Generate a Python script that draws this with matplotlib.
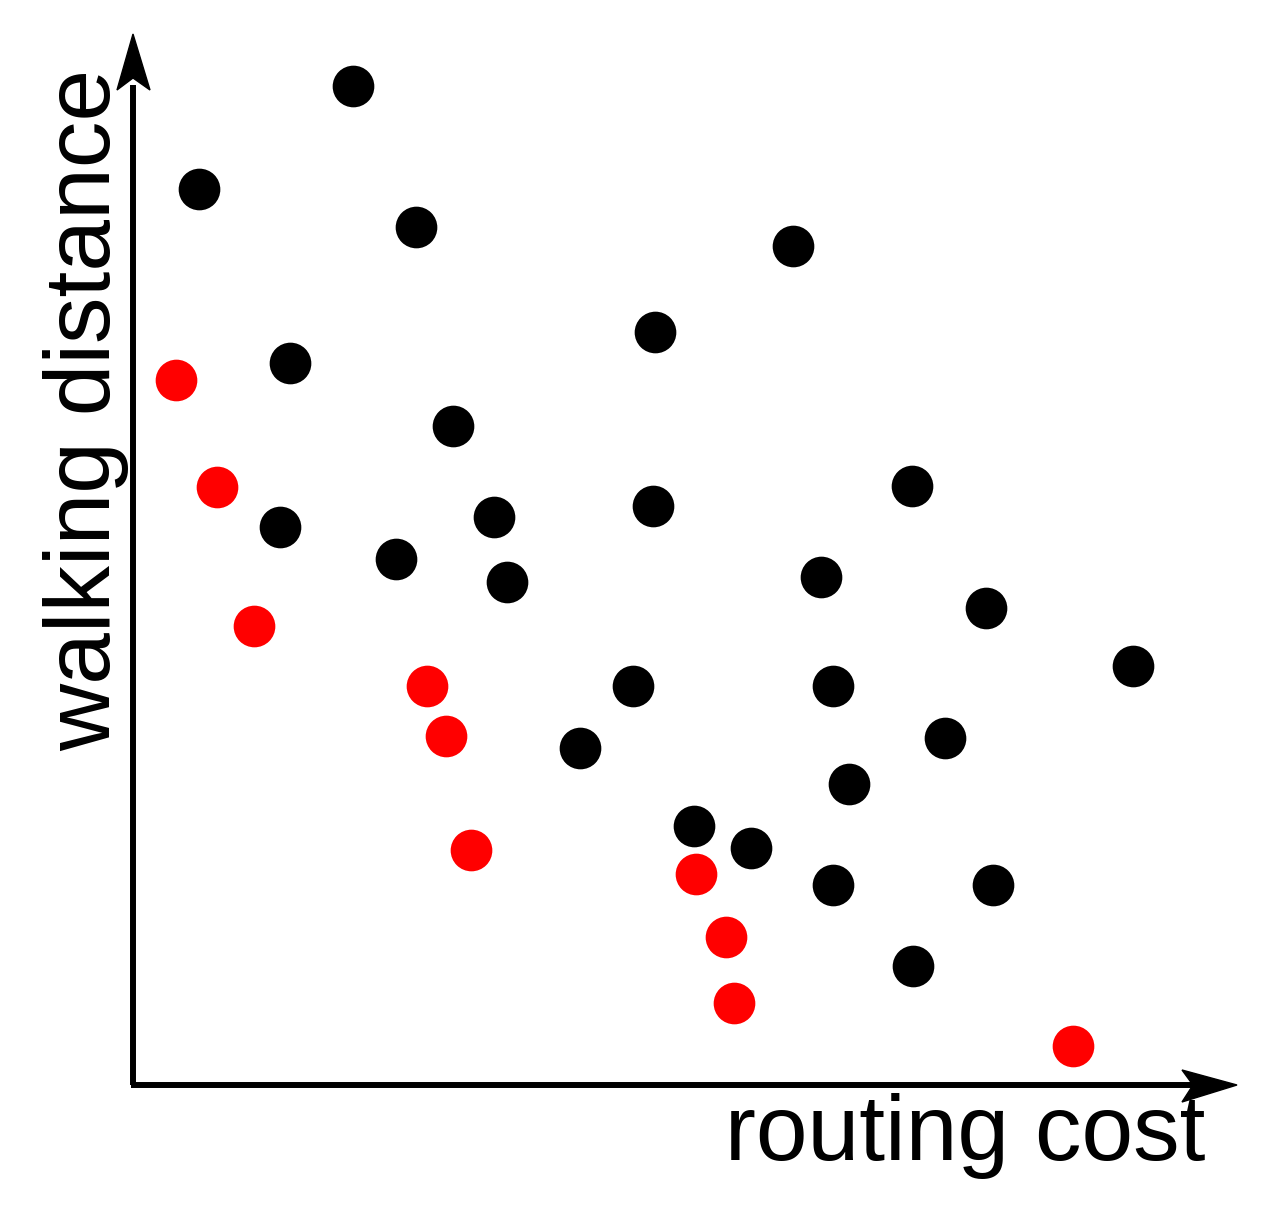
import matplotlib
matplotlib.use("Agg")
import matplotlib.pyplot as plt
from matplotlib.patches import Polygon

# positions in chart units (origin at the axes corner)
black_x = [220, 66, 283, 660, 522, 157, 320, 779, 520, 147, 361, 263, 374, 688,
           853, 1000, 500, 700, 812, 447, 716, 561, 618, 700, 860, 780]
black_y = [999, 896, 858, 839, 753, 722, 659, 599, 579, 558, 568, 526, 503, 508,
           477, 419, 399, 399, 347, 337, 301, 259, 237, 200, 200, 119]

red_x = [43, 84, 121, 294, 313, 338, 563, 593, 601, 940]
red_y = [705, 598, 459, 399, 349, 235, 211, 148, 82, 39]

x_label = "routing cost"
y_label = "walking distance"

plt.rcParams["font.family"] = ["Liberation Sans", "DejaVu Sans"]

fig = plt.figure(figsize=(12.8, 12.11), dpi=100)
ax = fig.add_axes([0, 0, 1, 1])
ax.set_xlim(-133, 1147)
ax.set_ylim(-126, 1085)
ax.axis("off")

# axes lines
ax.plot([0, 0], [0, 1000], color="black", lw=4.3, solid_capstyle="butt", zorder=1)
ax.plot([-2, 1060], [0, 0], color="black", lw=4.3, solid_capstyle="butt", zorder=1)

# stealth arrowheads
ax.add_patch(Polygon([(0, 1051), (-16, 995), (0, 1007), (17, 995)],
                     closed=True, color="black", zorder=1))
ax.add_patch(Polygon([(1104, 0), (1049, 15), (1060, 0), (1049, -17)],
                     closed=True, color="black", zorder=1))

ax.scatter(black_x, black_y, s=900, color="black", linewidths=0, zorder=2)
ax.scatter(red_x, red_y, s=900, color="#ff0000", linewidths=0, zorder=2)

ax.text(1072, -75, x_label, fontsize=67, ha="right", va="baseline")
ax.text(-47, 675, y_label, fontsize=67, rotation=90, ha="center", va="center")

fig.savefig("out.png", dpi=100)
